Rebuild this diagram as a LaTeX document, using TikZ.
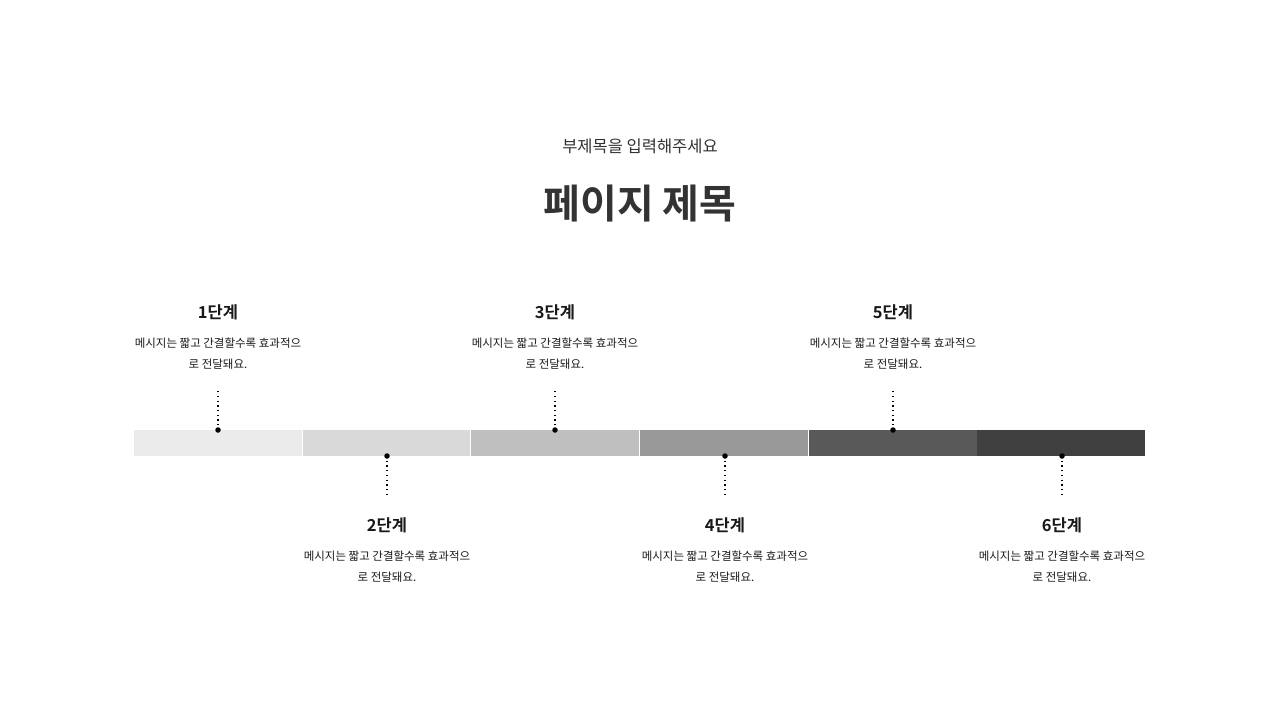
\documentclass[tikz,border=0pt]{standalone}
\usepackage{fontspec}
\setmainfont{Noto Sans CJK KR}[BoldFont={Noto Sans CJK KR Bold}]
\definecolor{s1}{HTML}{EBEBEB}
\definecolor{s2}{HTML}{D9D9D9}
\definecolor{s3}{HTML}{BFBFBF}
\definecolor{s4}{HTML}{999999}
\definecolor{s5}{HTML}{595959}
\definecolor{s6}{HTML}{404040}
\definecolor{txt}{HTML}{333333}
\begin{document}
\begin{tikzpicture}[x=1pt,y=-1pt,
  steptitle/.style={font=\fontsize{16.5}{18}\selectfont\bfseries,text=black!90,inner sep=0},
  stepdesc/.style={font=\fontsize{11.5}{21}\selectfont,text=black!90,align=center,inner sep=0},
  dotline/.style={line width=1.3pt,dash pattern=on 1.3pt off 3.4pt,draw=black},
  pin/.style={circle,fill=black,inner sep=0,minimum size=5.5pt}]
\useasboundingbox[fill=white] (0,0) rectangle (1280,720);
\node[font=\fontsize{16.5}{18}\selectfont,text=txt] (sub) at (640,146) {부제목을 입력해주세요};
\node[font=\fontsize{40}{44}\selectfont\bfseries,text=txt] (title) at (640,204) {페이지 제목};
% bar segments
\fill[s1] (134,430) rectangle (302,456);
\fill[s2] (303,430) rectangle (470,456);
\fill[s3] (471,430) rectangle (639,456);
\fill[s4] (640,430) rectangle (808,456);
\fill[s5] (809,430) rectangle (977,456);
\fill[s6] (977,430) rectangle (1145,456);
% pins
\node[pin] (p1) at (218,430) {};
\node[pin] (p2) at (387,456) {};
\node[pin] (p3) at (555,430) {};
\node[pin] (p4) at (725,456) {};
\node[pin] (p5) at (893,430) {};
\node[pin] (p6) at (1062,456) {};
\coordinate (e1) at (218,389);
\coordinate (e2) at (387,497);
\coordinate (e3) at (555,389);
\coordinate (e4) at (725,497);
\coordinate (e5) at (893,389);
\coordinate (e6) at (1062,497);
\foreach \i in {1,...,6} {\draw[dotline] (p\i.center) -- (e\i);}
% upper labels
\node[steptitle] (t1) at (218,312) {1단계};
\node[stepdesc] (d1) at (218,353.5) {메시지는 짧고 간결할수록 효과적으\\로 전달돼요.};
\node[steptitle] (t3) at (555,312) {3단계};
\node[stepdesc] (d3) at (555,353.5) {메시지는 짧고 간결할수록 효과적으\\로 전달돼요.};
\node[steptitle] (t5) at (893,312) {5단계};
\node[stepdesc] (d5) at (893,353.5) {메시지는 짧고 간결할수록 효과적으\\로 전달돼요.};
% lower labels
\node[steptitle] (t2) at (387,525) {2단계};
\node[stepdesc] (d2) at (387,566.5) {메시지는 짧고 간결할수록 효과적으\\로 전달돼요.};
\node[steptitle] (t4) at (725,525) {4단계};
\node[stepdesc] (d4) at (725,566.5) {메시지는 짧고 간결할수록 효과적으\\로 전달돼요.};
\node[steptitle] (t6) at (1062,525) {6단계};
\node[stepdesc] (d6) at (1062,566.5) {메시지는 짧고 간결할수록 효과적으\\로 전달돼요.};
\end{tikzpicture}
\end{document}
